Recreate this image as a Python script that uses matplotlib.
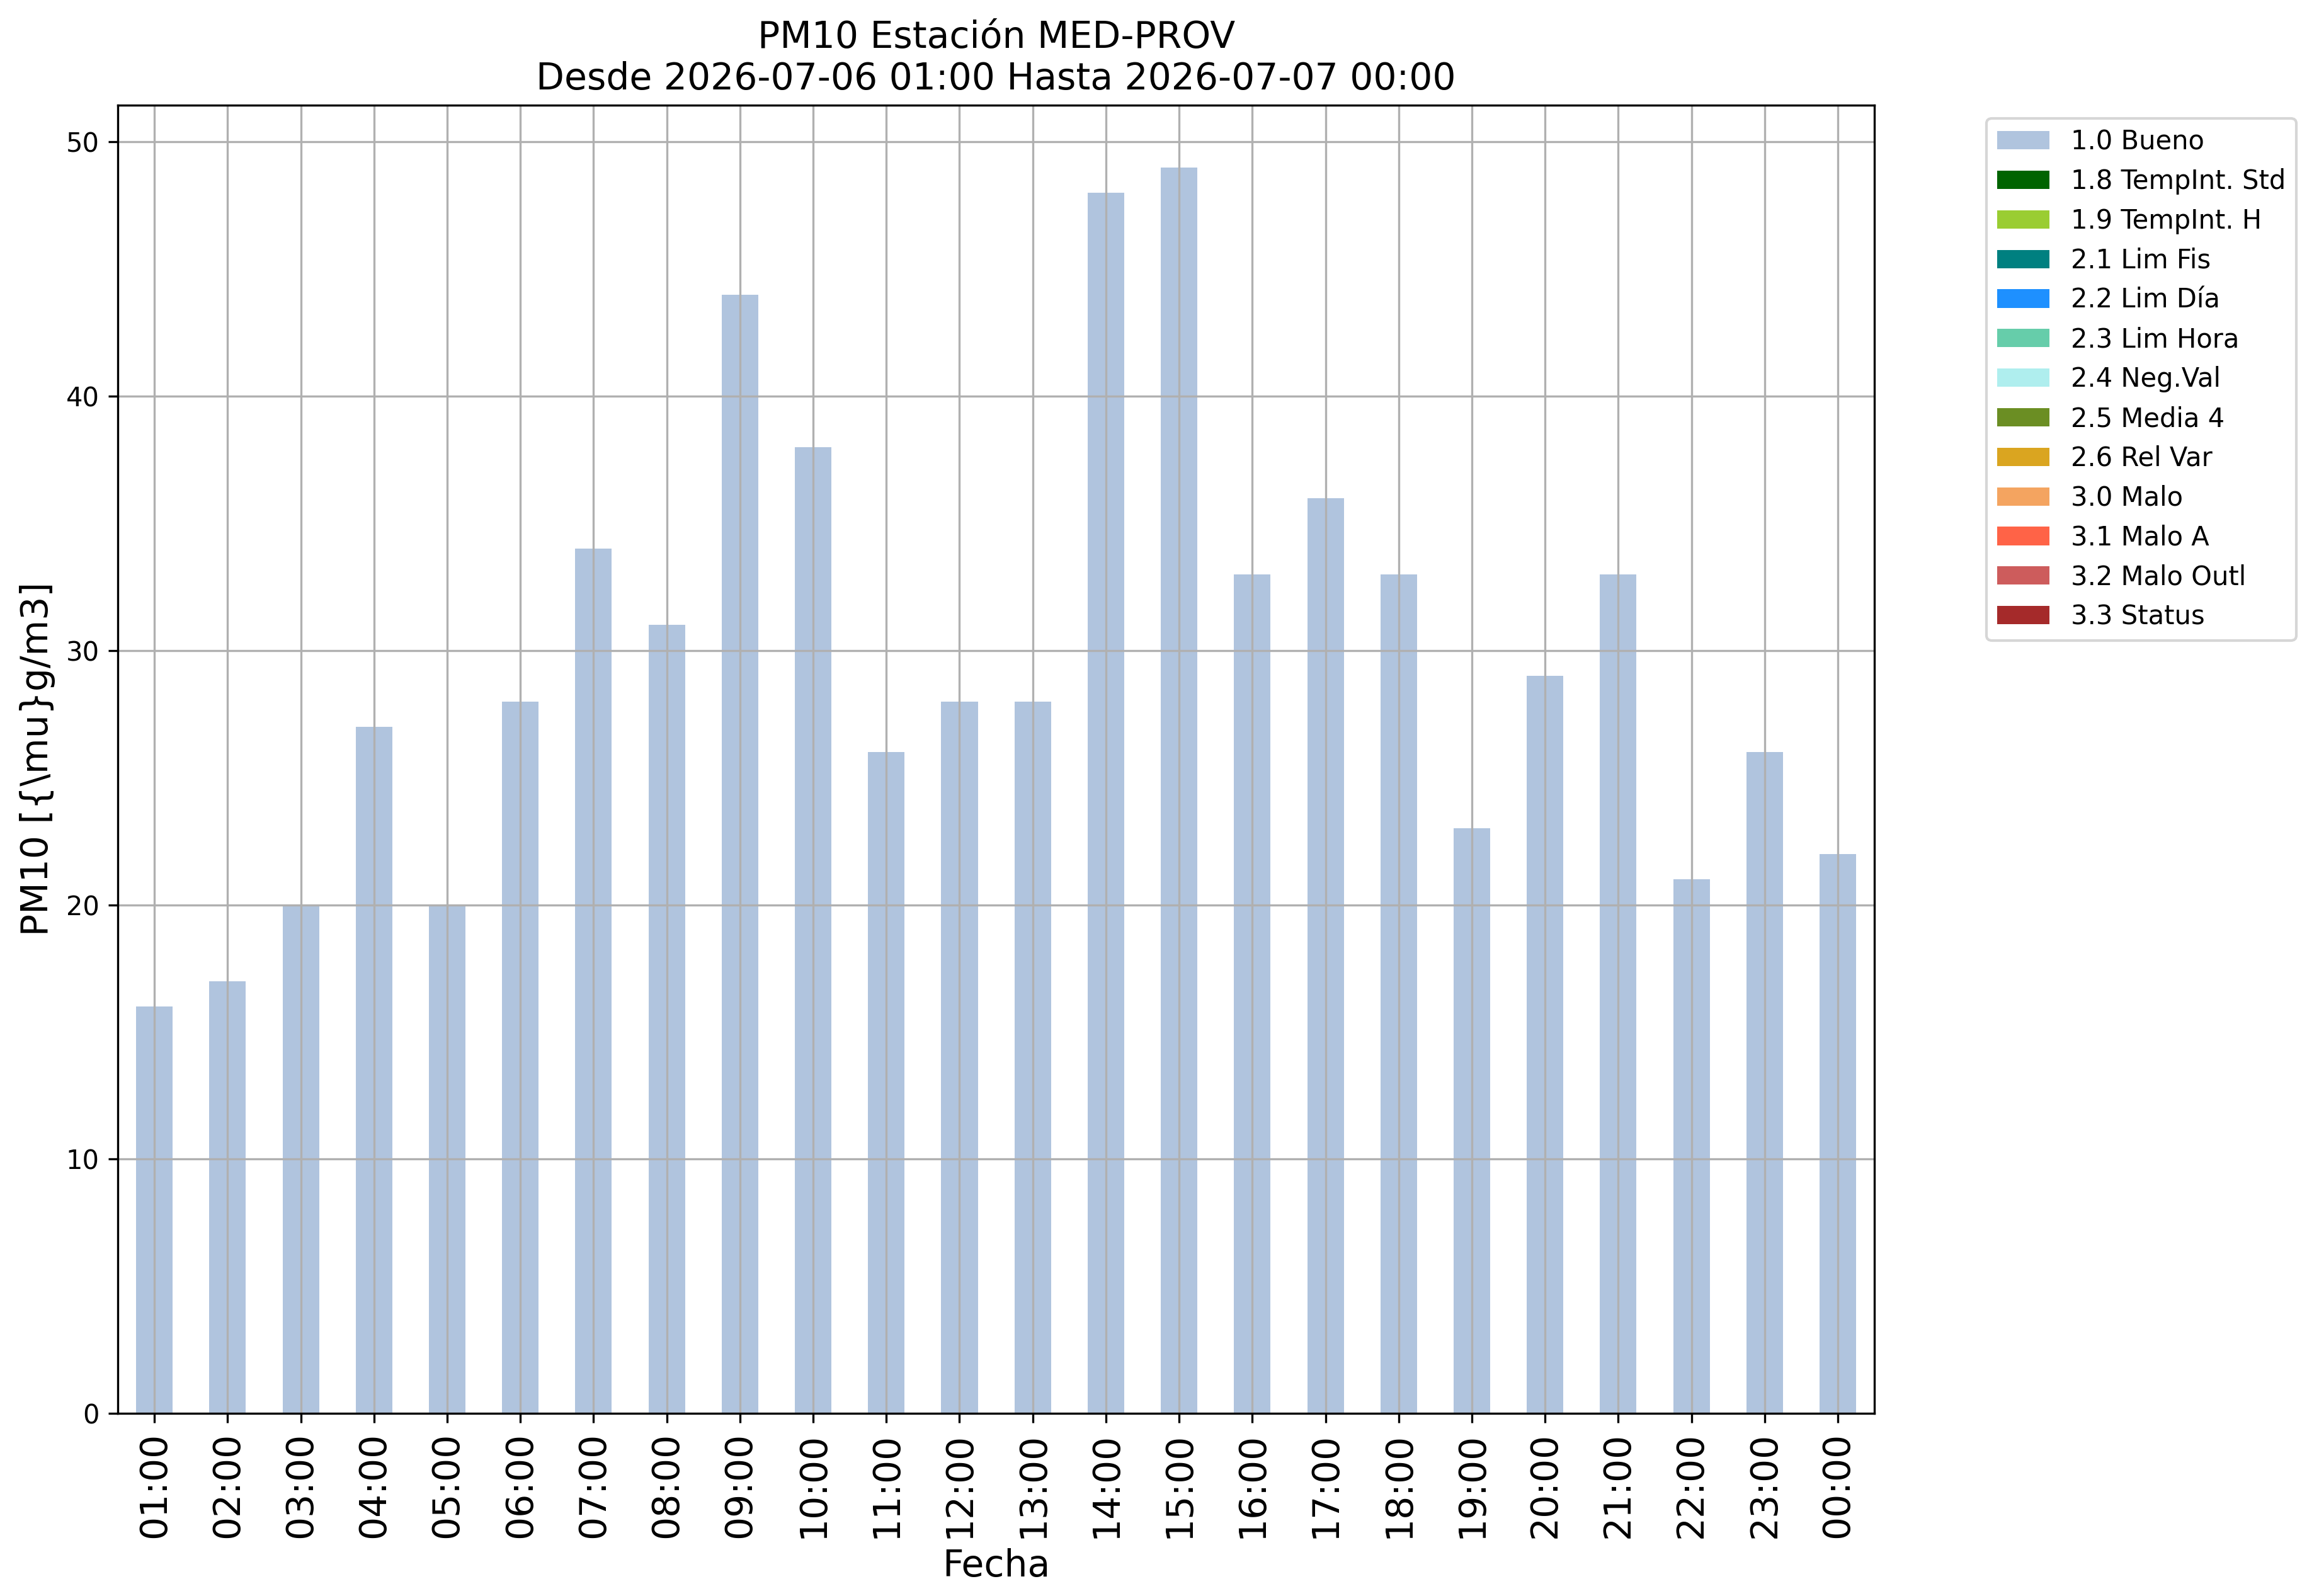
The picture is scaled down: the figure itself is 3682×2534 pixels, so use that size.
import numpy as np
import matplotlib.pyplot as plt

# horas del periodo
horas = ['01:00', '02:00', '03:00', '04:00', '05:00', '06:00', '07:00', '08:00',
         '09:00', '10:00', '11:00', '12:00', '13:00', '14:00', '15:00', '16:00',
         '17:00', '18:00', '19:00', '20:00', '21:00', '22:00', '23:00', '00:00']
# valores PM10 con bandera 1.0 Bueno
bueno = [16, 17, 20, 27, 20, 28, 34, 31, 44, 38, 26, 28,
         28, 48, 49, 33, 36, 33, 23, 29, 33, 21, 26, 22]

# banderas de calidad y colores
banderas = ['1.0 Bueno', '1.8 TempInt. Std', '1.9 TempInt. H', '2.1 Lim Fis',
            '2.2 Lim Día', '2.3 Lim Hora', '2.4 Neg.Val', '2.5 Media 4',
            '2.6 Rel Var', '3.0 Malo', '3.1 Malo A', '3.2 Malo Outl', '3.3 Status']
colores = ['lightsteelblue', 'darkgreen', 'yellowgreen', 'teal', 'dodgerblue',
           'mediumaquamarine', 'paleturquoise', 'olivedrab', 'goldenrod',
           'sandybrown', 'tomato', 'indianred', 'brown']
# el resto de banderas no tiene datos en este periodo
otros = [0] * len(horas)

fig = plt.figure(figsize=(3682/300, 2534/300), dpi=300)
ax = fig.add_axes([0.0508, 0.1144, 0.7575, 0.8198])

x = np.arange(len(horas))
base = np.zeros(len(horas))
for i, (nombre, color) in enumerate(zip(banderas, colores)):
    valores = np.array(bueno if i == 0 else otros, dtype=float)
    ax.bar(x, valores, width=0.5, bottom=base, color=color, label=nombre, linewidth=0)
    base += valores

# margen superior del 5% como en el autoescalado normal
ax.set_ylim(0, base.max() * 1.05)
ax.set_xlim(-0.5, len(horas) - 0.5)
ax.set_xticks(x)
ax.set_xticklabels(horas, rotation=90, fontsize=14)
ax.tick_params(axis='y', labelsize=10)
ax.grid(True)
ax.set_xlabel('Fecha', fontsize=14)
ax.set_ylabel('PM10 [{\\mu}g/m3]', fontsize=14)
ax.set_title('PM10 Estación MED-PROV\nDesde 2026-07-06 01:00 Hasta 2026-07-07 00:00', fontsize=14)
ax.legend(loc='upper left', bbox_to_anchor=(1.0564, 1), fontsize=10)

fig.savefig('out.png', dpi=300)
